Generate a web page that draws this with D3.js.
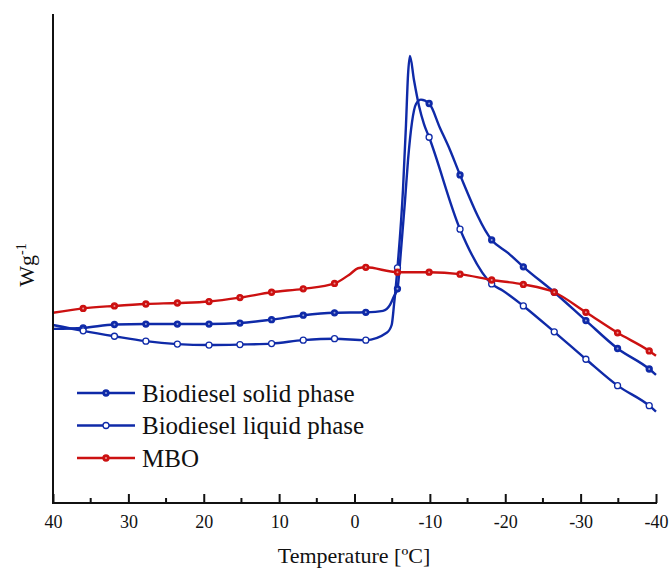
<!DOCTYPE html>
<meta charset="utf-8">
<style>
  body { margin: 0; background: #fff; }
  svg text { font-family: "Liberation Serif", "Times New Roman", serif; fill: #111; }
</style>
<svg width="671" height="574"></svg>
<script src="https://d3js.org/d3.v7.min.js"></script>
<script>

// temperatures where Origin put a symbol (same for all three curves)
var markTemps = [36.0, 31.85, 27.68, 23.5, 19.3, 15.2, 11.0, 6.8, 2.65, -1.5,
                 -5.7, -9.9, -14.0, -18.2, -22.4, -26.5, -30.7, -34.9, -39.1];

// heat flow (arbitrary units) at the symbol temperatures
var solidMarks  = [35.8, 36.5, 36.6, 36.6, 36.6, 36.8, 37.5, 38.4, 38.9, 39.0,
                   43.8, 81.7, 67.1, 53.8, 48.3, 43.1, 37.3, 31.6, 27.4];
var liquidMarks = [35.2, 34.1, 33.1, 32.5, 32.3, 32.4, 32.6, 33.3, 33.6, 33.3,
                   48.1, 74.8, 56.0, 44.8, 40.3, 35.0, 29.4, 24.0, 19.9];
var mboMarks    = [39.8, 40.3, 40.7, 40.9, 41.2, 42.0, 43.1, 43.8, 44.9, 48.2,
                   47.2, 47.2, 46.8, 45.6, 44.7, 43.1, 39.0, 34.8, 31.1];

// extra curve points between symbols [temperature, value]
var solidExtra  = [[40, 35.6], [-3.78, 39.3], [-4.71, 40.5], [-5.24, 42.3],
                   [-6.17, 51.7], [-6.7, 61.8], [-7.1, 70.1], [-7.63, 77.9],
                   [-8.16, 81.6], [-8.82, 82.5], [-11.34, 76.7], [-12.67, 72.2],
                   [-20.4, 51.1], [-40, 26.2]];
var liquidExtra = [[40, 36.4], [-4.27, 34.8], [-4.93, 36.4], [-5.24, 40.5],
                   [-6.43, 64.0], [-6.83, 77.3], [-7.1, 87.5], [-7.36, 91.4],
                   [-7.89, 86.5], [-8.56, 81.2], [-9.22, 77.5], [-19.7, 43.4],
                   [-40, 18.7]];
var mboExtra    = [[40, 38.9], [0.6, 46.8], [-0.46, 48.0], [-40, 30.1]];

var xTicks = [40, 30, 20, 10, 0, -10, -20, -30, -40];
var xMinor = [35, 25, 15, 5, -5, -15, -25, -35];

var series = [
  { name: "Biodiesel solid phase",  marks: solidMarks,  extra: solidExtra,  color: "#0f2aa8", open: false },
  { name: "Biodiesel liquid phase", marks: liquidMarks, extra: liquidExtra, color: "#0f2aa8", open: true },
  { name: "MBO",                    marks: mboMarks,    extra: mboExtra,    color: "#cc1111", open: false }
];

var svg = d3.select("svg");

var x = d3.scaleLinear().domain([40, -40]).range([53, 656]);
var y = d3.scaleLinear().domain([0, 100]).range([503, 14]);

var line = d3.line()
    .x(function(d) { return x(d[0]); })
    .y(function(d) { return y(d[1]); })
    .curve(d3.curveMonotoneX);

series.forEach(function(s) {
  s.points = markTemps.map(function(t, i) { return [t, s.marks[i]]; });
  s.all = s.points.concat(s.extra).sort(function(a, b) { return b[0] - a[0]; });
});

var plot = svg.append("g");

series.forEach(function(s) {
  plot.append("path")
      .attr("d", line(s.all))
      .attr("fill", "none")
      .attr("stroke", s.color)
      .attr("stroke-width", 2.4);
});

function symbol(g, cx, cy, s) {
  g.append("circle")
      .attr("cx", cx).attr("cy", cy).attr("r", 3)
      .attr("fill", s.open ? "#fff" : s.color)
      .attr("stroke", s.color)
      .attr("stroke-width", 1.3);
  if (!s.open) {
    g.append("circle")
        .attr("cx", cx).attr("cy", cy).attr("r", 1)
        .attr("fill", "#fff").attr("opacity", 0.55);
  }
}

series.forEach(function(s) {
  s.points.forEach(function(d) { symbol(plot, x(d[0]), y(d[1]), s); });
});

// axes
var xAxis = svg.append("g").attr("transform", "translate(0,503)");
xAxis.call(d3.axisBottom(x).tickValues(xTicks).tickSize(-9).tickPadding(12)
    .tickFormat(function(d) { return d; }));
xAxis.attr("font-family", null);
xAxis.select(".domain").remove();
xAxis.selectAll(".tick line").attr("stroke", "#111").attr("stroke-width", 2);
xAxis.selectAll(".tick text").attr("font-size", 18).attr("dy", "0.71em");

xAxis.selectAll(".minor").data(xMinor).enter().append("line")
    .attr("x1", function(d) { return x(d); }).attr("x2", function(d) { return x(d); })
    .attr("y1", 0).attr("y2", -5)
    .attr("stroke", "#111").attr("stroke-width", 2);

svg.append("path")
    .attr("d", "M53,14V503H657")
    .attr("fill", "none")
    .attr("stroke", "#111")
    .attr("stroke-width", 2);

svg.append("text")
    .attr("x", 354).attr("y", 563)
    .attr("text-anchor", "middle")
    .attr("font-size", 22)
    .text("Temperature [ºC]");

var yl = svg.append("text")
    .attr("transform", "translate(34,265) rotate(-90)")
    .attr("text-anchor", "middle")
    .attr("font-size", 22);
yl.append("tspan").text("Wg");
yl.append("tspan").attr("dy", -8).attr("font-size", 14).text("-1");

// legend
var legend = svg.append("g");
series.forEach(function(s, i) {
  var ly = 393 + i * 32.5;
  legend.append("line")
      .attr("x1", 77).attr("x2", 135).attr("y1", ly).attr("y2", ly)
      .attr("stroke", s.color).attr("stroke-width", 2.4);
  symbol(legend, 106, ly, s);
  legend.append("text")
      .attr("x", 142).attr("y", ly).attr("dy", "0.35em")
      .attr("font-size", 25)
      .text(s.name);
});

</script>
